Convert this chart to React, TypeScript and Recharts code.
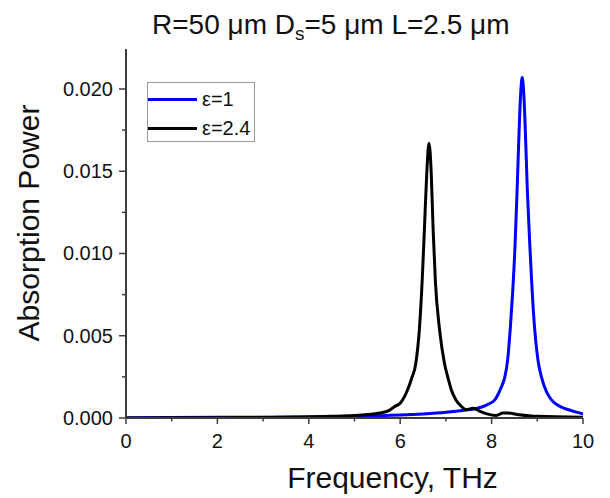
import React from 'react';
import { LineChart, Line, XAxis, YAxis, Legend, Label } from 'recharts';

// eps = 1 (blue)
const blueFreq = [0, 2, 4, 5, 6, 6.5, 7, 7.4, 7.67, 7.9, 8.07, 8.2, 8.29, 8.35, 8.41, 8.46, 8.51, 8.56, 8.61, 8.64, 8.67, 8.7, 8.73, 8.78, 8.84, 8.89, 8.94, 9.01, 9.09, 9.2, 9.31, 9.5, 9.75, 10];
const blueAbs = [0.00002, 0.00004, 0.00007, 0.0001, 0.00018, 0.00025, 0.00035, 0.00047, 0.00058, 0.0008, 0.0011, 0.0018, 0.0025, 0.0035, 0.0055, 0.0076, 0.0103, 0.014, 0.0181, 0.0199, 0.0207, 0.0199, 0.0181, 0.014, 0.0103, 0.0076, 0.0055, 0.0036, 0.0025, 0.0016, 0.0011, 0.0007, 0.00045, 0.00025];

// eps = 2.4 (black)
const blackFreq = [0, 1, 2, 3, 4, 4.5, 5, 5.55, 5.75, 5.88, 6, 6.16, 6.25, 6.34, 6.42, 6.48, 6.53, 6.58, 6.63, 6.68, 6.72, 6.77, 6.86, 6.97, 7.05, 7.12, 7.22, 7.34, 7.45, 7.6, 7.75, 7.9, 8.1, 8.25, 8.35, 8.6, 9, 10];
const blackAbs = [0, 0.00001, 0.00002, 0.00003, 0.00006, 0.0001, 0.00015, 0.0003, 0.00045, 0.0007, 0.0009, 0.0017, 0.0024, 0.0033, 0.0054, 0.0083, 0.0115, 0.0148, 0.0167, 0.0148, 0.0115, 0.0083, 0.0054, 0.0033, 0.0024, 0.0017, 0.0011, 0.0007, 0.0005, 0.0006, 0.0004, 0.00025, 0.00015, 0.0003, 0.0003, 0.0002, 0.0001, 0.00005];

const xTicks = [0, 1, 2, 3, 4, 5, 6, 7, 8, 9, 10];
const yTicks = [0, 0.0025, 0.005, 0.0075, 0.01, 0.0125, 0.015, 0.0175, 0.02];

const FONT = '"Liberation Sans", Arial, sans-serif';
const AXIS = '#3c3c3c';

const toRows = (f: number[], v: number[]) => f.map((x, i) => ({ f: x, v: v[i] }));
const eps1 = toRows(blueFreq, blueAbs);
const eps24 = toRows(blackFreq, blackAbs);

const XTick = (props: any) => {
  const { x, y, payload } = props;
  const major = payload.value % 2 === 0;
  return (
    <g>
      <line x1={x} x2={x} y1={y} y2={y + (major ? 6 : 3.5)} stroke={AXIS} strokeWidth={1.5} />
      {major && (
        <text x={x} y={y + 30} textAnchor="middle" fontSize={20} fontFamily={FONT} fill="#111">
          {payload.value}
        </text>
      )}
    </g>
  );
};

const YTick = (props: any) => {
  const { x, y, payload } = props;
  const major = Math.round(payload.value * 10000) % 50 === 0;
  return (
    <g>
      <line x1={x - (major ? 7 : 4)} x2={x} y1={y} y2={y} stroke={AXIS} strokeWidth={1.5} />
      {major && (
        <text x={x - 13} y={y + 7} textAnchor="end" fontSize={20} fontFamily={FONT} fill="#111">
          {payload.value.toFixed(3)}
        </text>
      )}
    </g>
  );
};

const LegendBox = (props: any) => {
  const items = props.payload || [];
  return (
    <div style={{ width: 106, height: 58, border: '1px solid #999', background: '#fff', position: 'relative', fontFamily: FONT, fontSize: 20, color: '#111' }}>
      {items.map((e: any, i: number) => (
        <div key={e.value} style={{ position: 'absolute', left: 0, top: 5 + i * 29, height: 22, display: 'flex', alignItems: 'center' }}>
          <div style={{ width: 49, borderTop: `3px solid ${e.color}` }} />
          <span style={{ marginLeft: 5, lineHeight: '22px' }}>{e.value}</span>
        </div>
      ))}
    </div>
  );
};

export default function App() {
  return (
    <div style={{ position: 'absolute', left: 0, top: 0, width: 610, height: 498, background: '#fff' }}>
      <div style={{ position: 'absolute', left: 152, top: 11, fontFamily: FONT, fontSize: 28, lineHeight: '28px', color: '#111', whiteSpace: 'nowrap' }}>
        R=50 μm D<span style={{ fontSize: 19, position: 'relative', top: 6 }}>s</span>=5 μm L=2.5 μm
      </div>
      <LineChart width={610} height={498} margin={{ top: 49, right: 27, left: 0, bottom: 0 }}>
        <XAxis
          dataKey="f"
          type="number"
          domain={[0, 10]}
          ticks={xTicks}
          interval={0}
          height={80}
          tickSize={0}
          tickMargin={0}
          tick={<XTick />}
          axisLine={{ stroke: AXIS, strokeWidth: 2 }}
          allowDataOverflow
        >
          <Label
            content={(p: any) => (
              <text x={p.viewBox.x + p.viewBox.width / 2 + 38} y={p.viewBox.y + 70} textAnchor="middle" fontSize={30} fontFamily={FONT} fill="#111">
                Frequency, THz
              </text>
            )}
          />
        </XAxis>
        <XAxis xAxisId="top" orientation="top" type="number" domain={[0, 10]} height={0} tick={false} tickLine={false} axisLine={{ stroke: AXIS, strokeWidth: 2 }} />
        <YAxis
          type="number"
          domain={[0, 0.02243]}
          ticks={yTicks}
          interval={0}
          width={126}
          tickSize={0}
          tickMargin={0}
          tick={<YTick />}
          axisLine={{ stroke: AXIS, strokeWidth: 2 }}
          allowDataOverflow
        >
          <Label
            content={() => (
              <text x={39} y={223} transform="rotate(-90 39 223)" textAnchor="middle" fontSize={30} fontFamily={FONT} fill="#111">
                Absorption Power
              </text>
            )}
          />
        </YAxis>
        <YAxis yAxisId="right" orientation="right" type="number" domain={[0, 1]} width={0} tick={false} tickLine={false} axisLine={{ stroke: AXIS, strokeWidth: 2 }} />
        <Legend
          layout="vertical"
          align="center"
          verticalAlign="middle"
          content={<LegendBox />}
          wrapperStyle={{ left: 147, top: 82, width: 108, height: 60 }}
        />
        <Line data={eps1} dataKey="v" name="ε=1" type="monotone" stroke="#0000ff" strokeWidth={3} dot={false} isAnimationActive={false} />
        <Line data={eps24} dataKey="v" name="ε=2.4" type="monotone" stroke="#000000" strokeWidth={3} dot={false} isAnimationActive={false} />
      </LineChart>
    </div>
  );
}
